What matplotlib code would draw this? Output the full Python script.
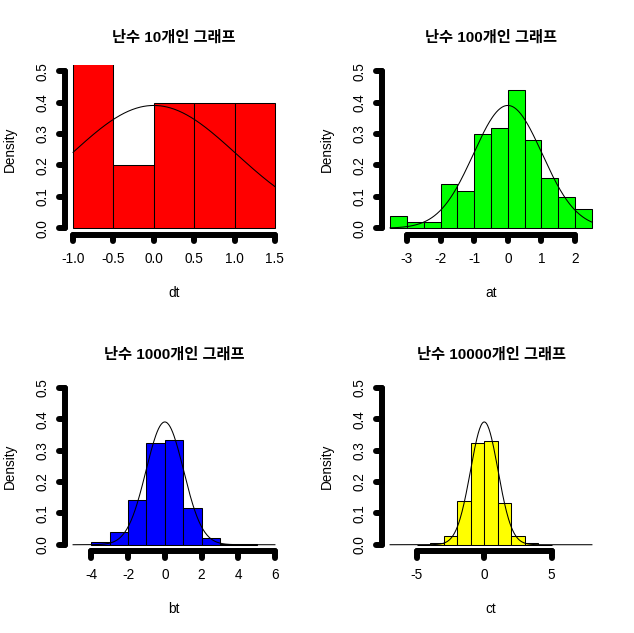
import numpy as np
import matplotlib
matplotlib.use("Agg")
import matplotlib.pyplot as plt

plt.rcParams['font.family'] = ['Liberation Sans', 'Noto Sans CJK KR', 'DejaVu Sans']
plt.rcParams['axes.unicode_minus'] = False

# histogram data (density per bin)
titles = ["난수 10개인 그래프", "난수 100개인 그래프", "난수 1000개인 그래프", "난수 10000개인 그래프"]
xlabels = ["dt", "at", "bt", "ct"]
colors = ["#FF0000", "#00FF00", "#0000FF", "#FFFF00"]

dt_breaks = [-1.0, -0.5, 0.0, 0.5, 1.0, 1.5]
dt_density = [0.6, 0.2, 0.4, 0.4, 0.4]

at_breaks = [-3.5, -3.0, -2.5, -2.0, -1.5, -1.0, -0.5, 0.0, 0.5, 1.0, 1.5, 2.0, 2.5]
at_density = [0.04, 0.02, 0.02, 0.14, 0.12, 0.30, 0.32, 0.44, 0.28, 0.16, 0.10, 0.06]

bt_breaks = [-4, -3, -2, -1, 0, 1, 2, 3, 4, 5]
bt_density = [0.008, 0.040, 0.143, 0.324, 0.333, 0.118, 0.021, 0.003, 0.001]

ct_breaks = [-5, -4, -3, -2, -1, 0, 1, 2, 3, 4, 5]
ct_density = [0.0004, 0.005, 0.028, 0.140, 0.323, 0.330, 0.133, 0.028, 0.005, 0.0004]

# x ranges (xlim) used for the axis and the normal curve
xranges = [(-1.0, 1.5), (-3.5, 2.5), (-5, 6), (-7, 8)]
xticks = [[-1.0, -0.5, 0.0, 0.5, 1.0, 1.5], [-3, -2, -1, 0, 1, 2], [-4, -2, 0, 2, 4, 6], [-5, 0, 5]]
xticklabels = [["-1.0", "-0.5", "0.0", "0.5", "1.0", "1.5"],
               ["-3", "-2", "-1", "0", "1", "2"],
               ["-4", "-2", "0", "2", "4", "6"],
               ["-5", "0", "5"]]
yticks = [0.0, 0.1, 0.2, 0.3, 0.4, 0.5]
yticklabels = ["0.0", "0.1", "0.2", "0.3", "0.4", "0.5"]

breaks = [dt_breaks, at_breaks, bt_breaks, ct_breaks]
densities = [dt_density, at_density, bt_density, ct_density]

# curve peak reads ~0.39 in every panel
norm_mean, norm_sd = 0.0, 1.02

W, H = 634, 633
fig = plt.figure(figsize=(W / 100, H / 100), dpi=100)

# plot regions in pixels: (left, top, right, bottom)
regions = [(65, 65, 283, 234.5), (382, 65, 600, 234.5),
           (65, 381.5, 283, 551), (382, 381.5, 600, 551)]

axis_lw = 4.3
tick_len = 6.5  # px

for i in range(4):
    l, t, r, b = regions[i]
    ax = fig.add_axes([l / W, 1 - b / H, (r - l) / W, (b - t) / H])
    lo, hi = xranges[i]
    ext = (hi - lo) * 0.04
    ax.set_xlim(lo - ext, hi + ext)
    ax.set_ylim(-0.02, 0.52)

    br = breaks[i]
    ax.bar(br[:-1], densities[i], width=np.diff(br), align='edge',
           color=colors[i], edgecolor='black', linewidth=0.75)

    xs = np.linspace(lo, hi, 301)
    ys = np.exp(-0.5 * ((xs - norm_mean) / norm_sd) ** 2) / (norm_sd * np.sqrt(2 * np.pi))
    ax.plot(xs, ys, color='black', linewidth=0.75)

    for s in ax.spines.values():
        s.set_visible(False)

    # R style axes: thick line from first to last tick, round caps
    xt = xticks[i]
    xtr = ax.get_xaxis_transform()
    ax.plot([xt[0], xt[-1]], [0, 0], transform=xtr, color='black',
            lw=axis_lw, solid_capstyle='round', clip_on=False)
    tl_x = tick_len / (b - t)
    for v in xt:
        ax.plot([v, v], [0, -tl_x], transform=xtr, color='black',
                lw=axis_lw, solid_capstyle='round', clip_on=False)
    ytr = ax.get_yaxis_transform()
    ax.plot([0, 0], [yticks[0], yticks[-1]], transform=ytr, color='black',
            lw=axis_lw, solid_capstyle='round', clip_on=False)
    tl_y = tick_len / (r - l)
    for v in yticks:
        ax.plot([0, -tl_y], [v, v], transform=ytr, color='black',
                lw=axis_lw, solid_capstyle='round', clip_on=False)

    ax.set_xticks(xt)
    ax.set_xticklabels(xticklabels[i])
    ax.set_yticks(yticks)
    ax.set_yticklabels(yticklabels, rotation=90, va='center')
    ax.tick_params(axis='x', length=0, pad=12.5, labelsize=9.8)
    ax.tick_params(axis='y', length=0, pad=11, labelsize=9.8)

    ax.annotate(xlabels[i], xy=(0.5, 0), xycoords='axes fraction',
                xytext=(0, -58), textcoords='offset pixels',
                ha='center', va='center', fontsize=9.8)
    ax.annotate("Density", xy=(0, 0.5), xycoords='axes fraction',
                xytext=(-55, 0), textcoords='offset pixels',
                ha='center', va='center', rotation=90, fontsize=9.8)
    ax.annotate(titles[i], xy=(0.5, 1), xycoords='axes fraction',
                xytext=(0, 27), textcoords='offset pixels',
                ha='center', va='center', fontsize=11, fontweight='bold')

fig.savefig("out.png", dpi=100)
